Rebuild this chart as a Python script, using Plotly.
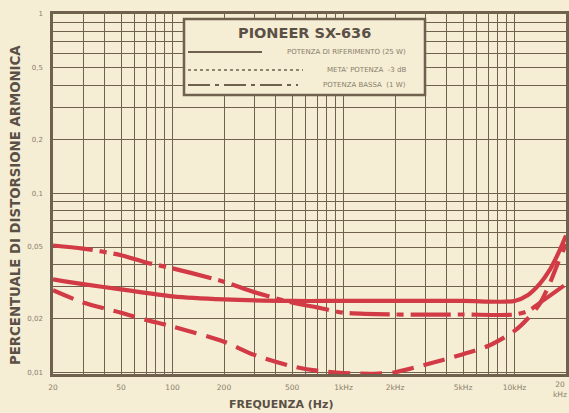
import plotly.graph_objects as go

# ---- data ----
freq_ref = [20, 30, 50, 100, 200, 500, 1000, 2000, 5000, 10000, 12000, 14000, 16000, 18000, 20000]
thd_ref = [0.033, 0.031, 0.029, 0.0265, 0.0255, 0.025, 0.025, 0.025, 0.025, 0.025, 0.027, 0.031, 0.037, 0.046, 0.058]

freq_low = [20, 30, 50, 70, 100, 200, 300, 500, 700, 1000, 2000, 5000, 10000, 12000, 15000, 20000]
thd_low = [0.051, 0.049, 0.045, 0.041, 0.038, 0.032, 0.028, 0.0245, 0.023, 0.0215, 0.021, 0.021, 0.021, 0.022, 0.0255, 0.031]

freq_half = [20, 30, 50, 70, 100, 200, 300, 500, 700, 1000, 1500, 2000, 3000, 5000, 7000, 10000, 12000, 14000, 16000, 18000, 20000]
thd_half = [0.0287, 0.0245, 0.0215, 0.0196, 0.018, 0.0148, 0.0125, 0.0108, 0.0102, 0.0099, 0.0098, 0.010, 0.011, 0.0126, 0.014, 0.017, 0.020, 0.024, 0.031, 0.041, 0.052]

x_label_vals = [20, 50, 100, 200, 500, 1000, 2000, 5000, 10000]
x_label_text = ["20", "50", "100", "200", "500", "1kHz", "2kHz", "5kHz", "10kHz"]
x_last_label = "20<br>kHz"
y_label_vals = [0.01, 0.02, 0.05, 0.1, 0.2, 0.5, 1]
y_label_text = ["0,01", "0,02", "0,05", "0,1", "0,2", "0,5", "1"]

legend_labels = ["POTENZA DI RIFERIMENTO (25 W)", "META' POTENZA  -3 dB", "POTENZA BASSA  (1 W)"]
title_text = "PIONEER SX-636"

# grid values (log paper)
x_grid = [m * 10 ** e for e in range(1, 5) for m in range(1, 10) if 20 <= m * 10 ** e <= 20000]
y_grid = [round(m * 10 ** e, 4) for e in (-2, -1) for m in range(1, 10)] + [1]

x_text = [x_label_text[x_label_vals.index(v)] if v in x_label_vals else "" for v in x_grid]
y_text = [y_label_text[y_label_vals.index(v)] if v in y_label_vals else "" for v in y_grid]

BG = "#f5edd4"
GRID = "#6f614d"
RED = "#d23a46"
INK = "#5a5046"
TICK = "#8a7e6b"

fig = go.Figure()
fig.add_trace(go.Scatter(x=freq_low, y=thd_low, mode="lines", line=dict(color=RED, width=4.2, dash="40px,7px,7px,7px", shape="spline", smoothing=0.8), name=legend_labels[2]))
fig.add_trace(go.Scatter(x=freq_half, y=thd_half, mode="lines", line=dict(color=RED, width=4.2, dash="22px,10px", shape="spline", smoothing=0.8), name=legend_labels[1]))
fig.add_trace(go.Scatter(x=freq_ref, y=thd_ref, mode="lines", line=dict(color=RED, width=4.2, shape="spline", smoothing=0.8), name=legend_labels[0]))

SCR_L, SCR_T, SCR_R, SCR_B = 53, 14, 566, 374
W, H = 569, 413
L, T = SCR_L, SCR_T
pw, ph = SCR_R - SCR_L, SCR_B - SCR_T
R, B = W - L - pw, H - T - ph

def px(x):
    return (x - SCR_L) / pw

def py(y):
    return (SCR_B - y) / ph

fig.update_layout(
    width=W, height=H,
    margin=dict(l=L, r=R, t=T, b=B, autoexpand=False),
    paper_bgcolor=BG, plot_bgcolor=BG,
    showlegend=False,
    font=dict(family="DejaVu Sans", color=INK),
)
fig.update_xaxes(
    type="log", range=[1.30103, 4.30103], automargin=False,
    tickmode="array", tickvals=x_grid, ticktext=x_text,
    showgrid=True, gridcolor=GRID, gridwidth=1.4,
    tickfont=dict(size=7.5, color=TICK), ticks="", ticklabelstandoff=4,
    ticklabeloverflow="allow",
    showline=True, linecolor=GRID, linewidth=2.5, mirror=True,
    zeroline=False,
)
fig.update_yaxes(
    type="log", range=[-2.01, 0], automargin=False,
    tickmode="array", tickvals=y_grid, ticktext=y_text,
    showgrid=True, gridcolor=GRID, gridwidth=1.4,
    tickfont=dict(size=7, color=TICK), ticks="", ticklabelstandoff=6,
    showline=True, linecolor=GRID, linewidth=2.5, mirror=True,
    zeroline=False,
)

# last x label, kept inside the window
fig.add_annotation(xref="paper", yref="paper", x=px(569), y=py(378), text=x_last_label, showarrow=False,
                   font=dict(size=7.5, color=TICK), xanchor="right", yanchor="top", align="center")

# legend box
fig.add_shape(type="rect", xref="paper", yref="paper", x0=px(184), x1=px(425), y0=py(95), y1=py(19),
              line=dict(color=GRID, width=2.5), fillcolor=BG, layer="above")
fig.add_annotation(xref="paper", yref="paper", x=px(304), y=py(33), text="<b>" + title_text + "</b>",
                   showarrow=False, font=dict(size=14.5, color=INK, family="DejaVu Sans"), xanchor="center", yanchor="middle")
rows_y = [52, 70, 85]
rows_x1 = [262, 303, 298]
dashes = ["solid", "dot", "22px,5px,4px,5px"]
for yy, x1, d, lab in zip(rows_y, rows_x1, dashes, legend_labels):
    fig.add_shape(type="line", xref="paper", yref="paper", x0=px(188), x1=px(x1), y0=py(yy), y1=py(yy),
                  line=dict(color=GRID, width=2.2 if d != "dot" else 1.6, dash=d), layer="above")
    fig.add_annotation(xref="paper", yref="paper", x=px(408), y=py(yy), text=lab, showarrow=False,
                       font=dict(size=7, color=TICK), xanchor="right", yanchor="middle")

# axis titles
fig.add_annotation(xref="paper", yref="paper", x=px(15), y=py(205), text="<b>PERCENTUALE DI DISTORSIONE ARMONICA</b>",
                   textangle=-90, showarrow=False, font=dict(size=13.3, color=INK), xanchor="center", yanchor="middle")
fig.add_annotation(xref="paper", yref="paper", x=px(281), y=py(404), text="<b>FREQUENZA (Hz)</b>",
                   showarrow=False, font=dict(size=11, color=INK), xanchor="center", yanchor="middle")

fig.write_html("out.html",
               config={"displayModeBar": False},
               post_script="document.body.style.margin='0';document.body.style.overflow='hidden';")
